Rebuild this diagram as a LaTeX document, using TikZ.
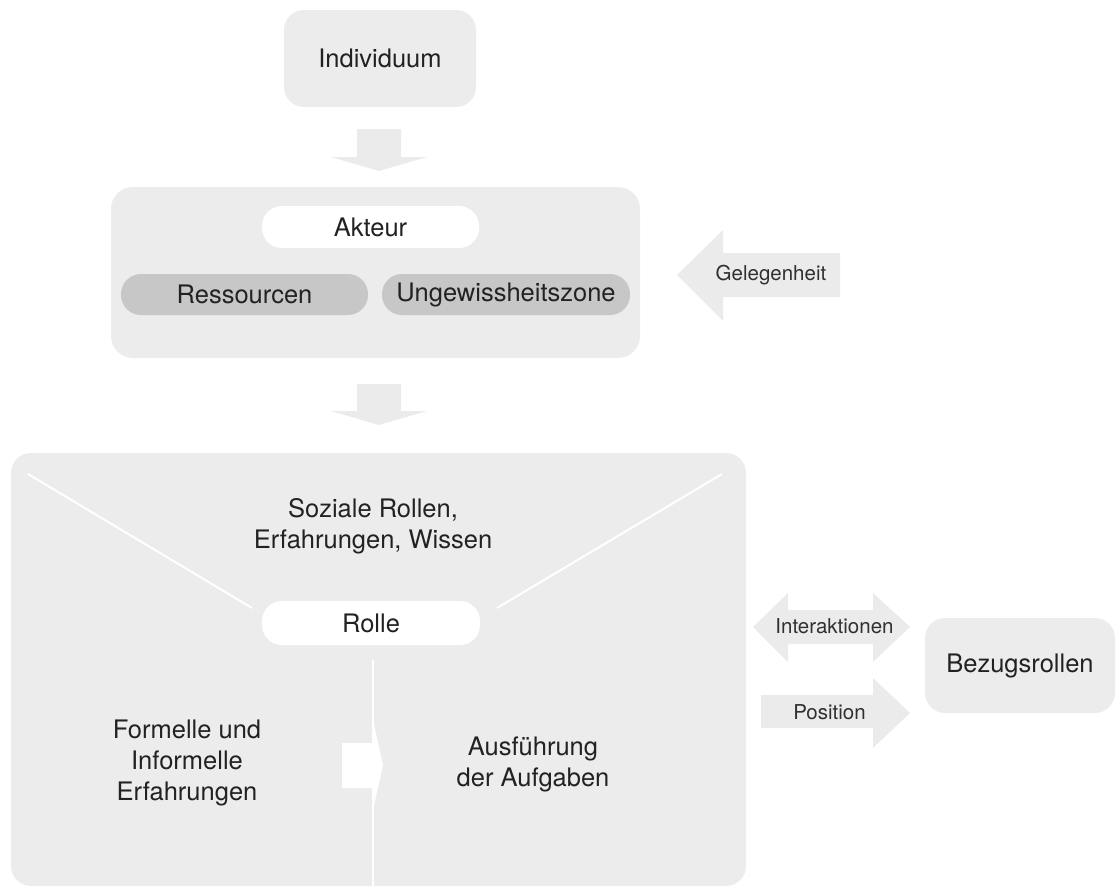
\documentclass[tikz,border=0pt]{standalone}
\usepackage{fontspec}
\setmainfont{TeX Gyre Heros}
\definecolor{panelgray}{HTML}{ECECEC}
\definecolor{pillgray}{HTML}{C7C7C7}
\definecolor{arrowgray}{HTML}{EBEBEB}
\definecolor{inkdark}{HTML}{222222}
\definecolor{inklabel}{HTML}{303030}
\begin{document}
\begin{tikzpicture}[x=1pt,y=-1pt,
  maintext/.style={font=\fontsize{25.5}{31}\selectfont, text=inkdark, align=center},
  labeltext/.style={font=\fontsize{20.5}{24}\selectfont, text=inklabel},
  panel/.style={fill=panelgray, rounded corners=20pt, inner sep=0pt},
  pillwhite/.style={fill=white, rounded corners=20pt, inner sep=0pt, maintext},
  pillgrey/.style={fill=pillgray, rounded corners=20pt, inner sep=0pt, maintext},
  blockarrow/.style={fill=arrowgray},
  whiteline/.style={draw=white, line width=2pt}
]
\useasboundingbox (0,0) rectangle (1117,887);

% top box
\node[panel, maintext, minimum width=192pt, minimum height=97pt] (ind) at (380,58.5) {Individuum};

% actor panel with its three pills
\node[panel, minimum width=529pt, minimum height=171pt, rounded corners=22pt] (aktbg) at (375.5,272.5) {};
\node[pillwhite, minimum width=217pt, minimum height=42pt] (akteur) at (370.5,227) {Akteur};
\node[pillgrey, minimum width=247pt, minimum height=41pt] (res) at (244.5,294.5) {Ressourcen};
\node[pillgrey, minimum width=248pt, minimum height=41pt] (ungew) at (506,294.5) {Ungewissheitszone};

% role panel
\node[panel, minimum width=735pt, minimum height=433pt] (rollebg) at (378.5,669.5) {};
\draw[whiteline] (28,474) -- (252,608);
\draw[whiteline] (722,474) -- (497,608);
\node[pillwhite, minimum width=218pt, minimum height=44pt] (rolle) at (371,623) {Rolle};
\coordinate (vtop) at (373,660);
\coordinate (vbot) at (373,886);
\draw[whiteline] (vtop) -- (vbot);
\fill[white] (342,743) -- (373,743) -- (373,720) -- (383,765) -- (373,810) -- (373,788) -- (342,788) -- cycle;

\node[maintext] (sozial) at (373,526) {Soziale Rollen,\\Erfahrungen, Wissen};
\node[maintext] (formell) at (187,763) {Formelle und\\Informelle\\Erfahrungen};
\node[maintext] (ausf) at (533,764) {Ausführung\\der Aufgaben};

% reference roles
\node[panel, maintext, minimum width=190pt, minimum height=95pt] (bezug) at (1020,665.5) {Bezugsrollen};

% block arrows
\fill[blockarrow] (357,129) -- (401,129) -- (401,157) -- (427,157) -- (379,171) -- (331,157) -- (357,157) -- cycle;
\fill[blockarrow] (357,384) -- (401,384) -- (401,411) -- (427,411) -- (379,425) -- (331,411) -- (357,411) -- cycle;
\fill[blockarrow] (677,275) -- (723,230) -- (723,253) -- (840,253) -- (840,297) -- (723,297) -- (723,321) -- cycle;
\fill[blockarrow] (753,627) -- (788,593) -- (788,610) -- (873,610) -- (873,593) -- (910,627) -- (873,662) -- (873,644) -- (788,644) -- (788,662) -- cycle;
\fill[blockarrow] (761,695) -- (873,695) -- (873,678) -- (910,713) -- (873,748) -- (873,728) -- (761,728) -- cycle;

\node[labeltext] (gel) at (771,275) {Gelegenheit};
\node[labeltext] (inter) at (834.5,626) {Interaktionen};
\node[labeltext] (pos) at (829.5,712) {Position};
\end{tikzpicture}
\end{document}
